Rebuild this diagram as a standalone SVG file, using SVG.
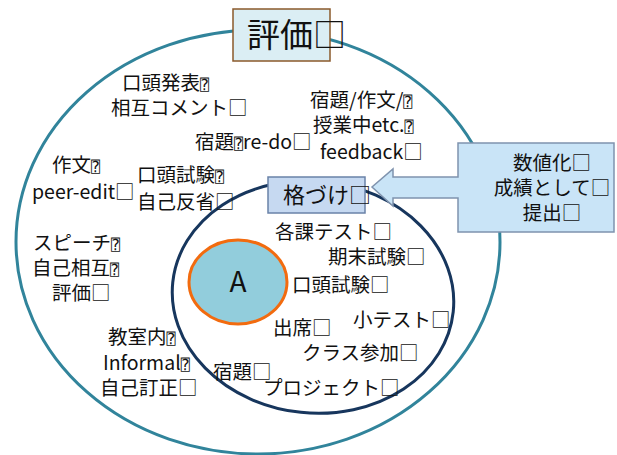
<svg xmlns="http://www.w3.org/2000/svg" width="617" height="455" viewBox="0 0 617 455">
<style>
  text { font-family: "Noto Sans CJK JP", "Noto Sans", sans-serif; fill: #111; }
  .t { font-size: 19.5px; }
  .q { font-family: "DejaVu Sans Mono", "DejaVu Sans", monospace; font-size: 15px; }
  .outer { fill: none; stroke: #31849B; stroke-width: 3; }
  .inner { fill: none; stroke: #17365D; stroke-width: 3; }
</style>
<rect width="617" height="455" fill="#fff"/>
<g id="evaluation-area">
  <ellipse class="outer" cx="258" cy="242" rx="242" ry="212"/>
</g>
<g id="grading-area">
  <ellipse class="inner" cx="313" cy="297" rx="141" ry="116" transform="rotate(6 313 297)"/>
</g>
<g id="A">
  <ellipse cx="238" cy="282" rx="49" ry="42" fill="#92CDDC" stroke="#F26B0F" stroke-width="3"/>
  <text x="238" y="292" font-size="28" text-anchor="middle" font-family="Liberation Sans, sans-serif">A</text>
</g>
<g id="title">
  <rect x="233" y="9" width="97" height="52" fill="#DBEEF4" stroke="#8B5A2B" stroke-width="1.5"/>
  <text x="247" y="47" font-size="33">評価□</text>
</g>
<g id="grading">
  <rect x="268" y="177" width="97" height="36" fill="#C6D9F1" stroke="#6A82A8" stroke-width="1.5"/>
  <text x="283" y="203" font-size="22">格づけ□</text>
</g>
<g id="connectors">
  <path d="M458 143 H614 V232 H458 V198 H393 V206 L372 187 L393 169 V177 H458 Z" fill="#C9E4F7" stroke="#7F93AE" stroke-width="1.5"/>
</g>
<g id="submission">
  <text class="t" x="552" y="170" text-anchor="middle">数値化□</text>
  <text class="t" x="552" y="195" text-anchor="middle">成績として□</text>
  <text class="t" x="552" y="220" text-anchor="middle">提出□</text>
</g>
<g id="outer-items">
  <text class="t" x="122" y="90">口頭発表<tspan class="q">⍰</tspan></text>
  <text class="t" x="111" y="115">相互コメント□</text>
  <text class="t" x="310" y="107">宿題/作文/<tspan class="q">⍰</tspan></text>
  <text class="t" x="313" y="132">授業中etc.<tspan class="q">⍰</tspan></text>
  <text class="t" x="320" y="159">feedback□</text>
  <text class="t" x="195" y="149">宿題<tspan class="q">⍰</tspan>re-do□</text>
  <text class="t" x="52" y="172">作文<tspan class="q">⍰</tspan></text>
  <text class="t" x="32" y="199">peer-edit□</text>
  <text class="t" x="137" y="182">口頭試験<tspan class="q">⍰</tspan></text>
  <text class="t" x="137" y="209">自己反省□</text>
  <text class="t" x="33" y="250">スピーチ<tspan class="q">⍰</tspan></text>
  <text class="t" x="32" y="275">自己相互<tspan class="q">⍰</tspan></text>
  <text class="t" x="52" y="300">評価□</text>
  <text class="t" x="108" y="344">教室内<tspan class="q">⍰</tspan></text>
  <text class="t" x="103" y="370">Informal<tspan class="q">⍰</tspan></text>
  <text class="t" x="100" y="395">自己訂正□</text>
</g>
<g id="grading-items">
  <text class="t" x="275" y="239">各課テスト□</text>
  <text class="t" x="328" y="264">期末試験□</text>
  <text class="t" x="292" y="292">口頭試験□</text>
  <text class="t" x="353" y="327">小テスト□</text>
  <text class="t" x="273" y="335">出席□</text>
  <text class="t" x="302" y="360">クラス参加□</text>
  <text class="t" x="213" y="379">宿題□</text>
  <text class="t" x="263" y="395">プロジェクト□</text>
</g>
</svg>
